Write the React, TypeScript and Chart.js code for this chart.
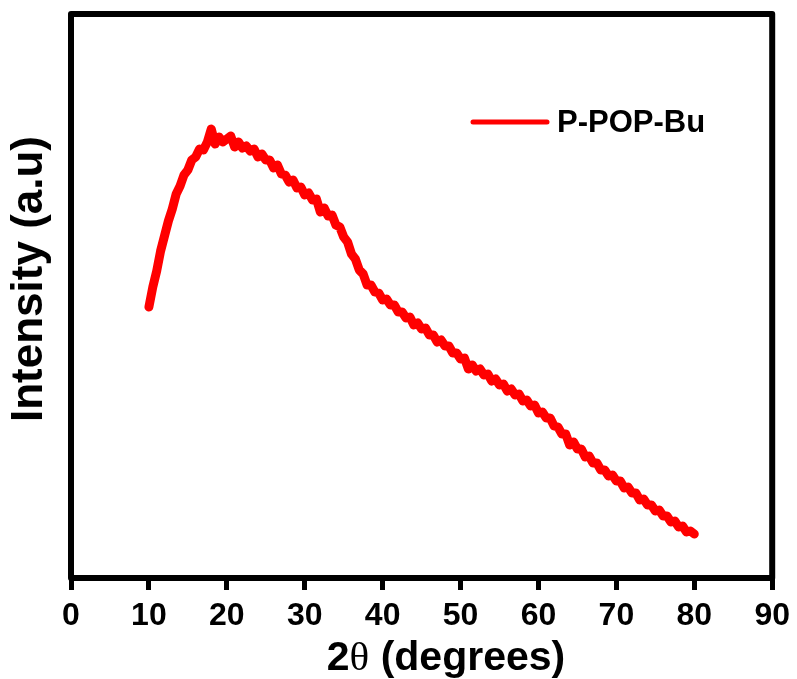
import { useEffect, useRef } from "react";
import { Chart, registerables } from "chart.js";

Chart.register(...registerables);

// 2θ sampling (degrees)
const twoTheta = [
  10, 10.5, 11, 11.5, 12, 12.5, 13, 13.5, 14, 14.5, 15, 15.5, 16, 16.5, 17, 17.5, 18, 18.5, 19, 19.5,
  20, 20.5, 21, 21.5, 22, 22.5, 23, 23.5, 24, 24.5, 25, 25.5, 26, 26.5, 27, 27.5, 28, 28.5, 29, 29.5,
  30, 30.5, 31, 31.5, 32, 32.5, 33, 33.5, 34, 34.5, 35, 35.5, 36, 36.5, 37, 37.5, 38, 38.5, 39, 39.5,
  40, 40.5, 41, 41.5, 42, 42.5, 43, 43.5, 44, 44.5, 45, 45.5, 46, 46.5, 47, 47.5, 48, 48.5, 49, 49.5,
  50, 50.5, 51, 51.5, 52, 52.5, 53, 53.5, 54, 54.5, 55, 55.5, 56, 56.5, 57, 57.5, 58, 58.5, 59, 59.5,
  60, 60.5, 61, 61.5, 62, 62.5, 63, 63.5, 64, 64.5, 65, 65.5, 66, 66.5, 67, 67.5, 68, 68.5, 69, 69.5,
  70, 70.5, 71, 71.5, 72, 72.5, 73, 73.5, 74, 74.5, 75, 75.5, 76, 76.5, 77, 77.5, 78, 78.5, 79, 79.5,
  80,
];

// Intensity (a.u.)
const intensity = [
  271, 291, 307, 327, 342, 357, 369, 384, 392, 403, 408, 418, 421, 429, 428, 436, 449, 434, 441, 436,
  439, 442, 431, 436, 430, 432, 427, 429, 421, 424, 418, 418, 410, 413, 404, 403, 396, 398, 390, 391,
  383, 385, 378, 379, 366, 370, 362, 363, 353, 351, 341, 336, 324, 319, 308, 304, 293, 293, 286, 285,
  278, 279, 273, 273, 266, 266, 260, 261, 253, 255, 249, 250, 243, 243, 236, 238, 232, 232, 225, 225,
  219, 220, 209, 213, 207, 209, 203, 204, 197, 199, 193, 194, 187, 189, 183, 184, 177, 178, 172, 173,
  165, 166, 160, 160, 152, 151, 144, 144, 133, 136, 129, 129, 121, 122, 115, 115, 108, 108, 102, 103,
  97, 97, 90, 91, 85, 85, 78, 79, 73, 73, 67, 68, 62, 62, 56, 57, 51, 52, 46, 47,
  44,
];

const xTickValues = [0, 10, 20, 30, 40, 50, 60, 70, 80, 90];
const seriesLabel = "P-POP-Bu";
const yTitle = "Intensity (a.u)";
const xTitleParts = ["2", "θ", " (degrees)"];

const SANS = "'Liberation Sans', Arial, sans-serif";
const SERIF = "'Liberation Serif', 'Times New Roman', serif";

const decorPlugin = {
  id: "decor",
  afterDraw(chart: any) {
    const { ctx, chartArea: a } = chart;
    ctx.save();
    // frame
    ctx.strokeStyle = "#000";
    ctx.lineWidth = 6;
    ctx.lineJoin = "round";
    ctx.strokeRect(a.left, a.top, a.right - a.left, a.bottom - a.top);

    // legend
    const ds = chart.data.datasets[0];
    ctx.strokeStyle = ds.borderColor;
    ctx.lineWidth = 5;
    ctx.lineCap = "round";
    ctx.beginPath();
    ctx.moveTo(473, 122);
    ctx.lineTo(547, 122);
    ctx.stroke();
    ctx.fillStyle = "#000";
    ctx.font = `bold 31px ${SANS}`;
    ctx.textAlign = "left";
    ctx.textBaseline = "middle";
    ctx.fillText(ds.label, 557, 123);

    // x title
    const fonts = [`bold 41px ${SANS}`, `41px ${SERIF}`, `bold 41px ${SANS}`];
    let total = 0;
    const widths = xTitleParts.map((t, i) => {
      ctx.font = fonts[i];
      const w = ctx.measureText(t).width;
      total += w;
      return w;
    });
    let x = 446 - total / 2;
    ctx.textBaseline = "alphabetic";
    xTitleParts.forEach((t, i) => {
      ctx.font = fonts[i];
      ctx.fillText(t, x, 670);
      x += widths[i];
    });

    // y title
    ctx.translate(42, 279);
    ctx.rotate(-Math.PI / 2);
    ctx.textAlign = "center";
    ctx.font = `bold 44px ${SANS}`;
    ctx.fillText(yTitle, 0, 0);
    ctx.restore();
  },
};

export default function App() {
  const canvasRef = useRef<HTMLCanvasElement | null>(null);

  useEffect(() => {
    if (!canvasRef.current) return;
    const points = twoTheta.map((t, i) => ({ x: t, y: intensity[i] }));
    const chart = new Chart(canvasRef.current, {
      type: "line",
      data: {
        datasets: [
          {
            label: seriesLabel,
            data: points,
            borderColor: "#ff0000",
            backgroundColor: "#ff0000",
            borderWidth: 9,
            pointRadius: 0,
            tension: 0,
            borderJoinStyle: "round",
            borderCapStyle: "round",
          },
        ],
      },
      options: {
        animation: false,
        responsive: true,
        maintainAspectRatio: false,
        layout: { padding: { top: 14, right: 24, left: 0, bottom: 0 } },
        plugins: { legend: { display: false }, tooltip: { enabled: false } },
        scales: {
          x: {
            type: "linear",
            min: 0,
            max: 90,
            afterBuildTicks: (s: any) => {
              s.ticks = xTickValues.map((v) => ({ value: v }));
            },
            ticks: {
              color: "#000",
              font: { family: SANS, size: 32, weight: "bold" },
              padding: 7,
              maxRotation: 0,
            },
            grid: {
              display: true,
              drawOnChartArea: false,
              drawTicks: true,
              tickLength: 12,
              lineWidth: 5,
              color: "#000",
            },
            border: { display: false },
            afterFit: (s: any) => {
              s.height = 101;
            },
          },
          y: {
            type: "linear",
            min: 0,
            max: 564,
            ticks: { display: false },
            grid: { display: false },
            border: { display: false },
            afterFit: (s: any) => {
              s.width = 71;
            },
          },
        },
      },
      plugins: [decorPlugin],
    });
    return () => chart.destroy();
  }, []);

  return (
    <div style={{ position: "fixed", left: 0, top: 0, width: 797, height: 679, background: "#fff" }}>
      <canvas ref={canvasRef} />
    </div>
  );
}
